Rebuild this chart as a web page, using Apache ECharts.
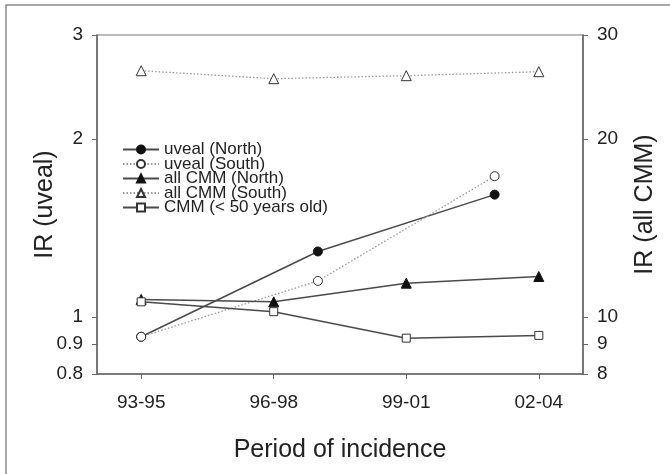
<!DOCTYPE html>
<html>
<head>
<meta charset="utf-8">
<script src="https://cdn.jsdelivr.net/npm/echarts@6/dist/echarts.min.js"></script>
<style>
  html, body { margin: 0; padding: 0; background: #fff; }
  #chart { width: 670px; height: 474px; }
</style>
</head>
<body>
<div id="chart"></div>
<script>
// Incidence rates by period: uveal melanoma (left axis) and all cutaneous melanoma (right axis)
const periodLabels = ['93-95', '96-98', '99-01', '02-04'];
const periodYears = [1994, 1997, 2000, 2003];
const uvealYears = [1994, 1998, 2002];
const uvealNorth = [0.925, 1.29, 1.61];
const uvealSouth = [0.925, 1.15, 1.73];
const cmmNorth = [10.7, 10.6, 11.4, 11.7];
const cmmSouth = [26.1, 25.3, 25.6, 26.0];
const cmmYoung = [10.6, 10.2, 9.2, 9.3];
const leftTicks = [0.8, 0.9, 1, 2, 3];
const rightTicks = [8, 9, 10, 20, 30];

const FONT = 'Arial, "Liberation Sans", sans-serif';
const INK = '#222';
const SOLID = '#4a4a4a';
const DOTTED = '#9a9a9a';

function pairs(xs, ys) { return xs.map((x, i) => [x, ys[i]]); }

const chart = echarts.init(document.getElementById('chart'), null, { renderer: 'canvas' });

function yAxisDef(min, max, ticks, pos, name) {
  return {
    type: 'log', logBase: 10, min: min, max: max, position: pos,
    name: name, nameLocation: 'middle', nameRotate: 90, nameMoveOverlap: false,
    nameGap: pos === 'left' ? 39 : 50,
    nameTextStyle: { fontFamily: FONT, fontSize: 25, color: INK },
    axisLine: { show: true, lineStyle: { color: '#666', width: 1.5 } },
    axisTick: { show: true, inside: false, length: 5, customValues: ticks, lineStyle: { color: '#666', width: 1 } },
    axisLabel: { customValues: ticks, margin: 14, fontFamily: FONT, fontSize: 19, color: INK,
      formatter: v => String(+v.toPrecision(3)) },
    splitLine: { show: false }, minorTick: { show: false }
  };
}

chart.setOption({
  animation: false,
  backgroundColor: '#fff',
  textStyle: { fontFamily: FONT },
  graphic: [{
    type: 'rect', silent: true, z: -10,
    shape: { x: 6, y: 5, width: 720, height: 520 },
    style: { fill: 'none', stroke: '#8a8a8a', lineWidth: 1.5 }
  }],
  grid: { left: 97, right: 87, top: 35, bottom: 100, show: true, borderColor: '#777', borderWidth: 1.2 },
  legend: {
    orient: 'vertical', left: 122, top: 141, padding: 0,
    itemWidth: 36, itemHeight: 10, itemGap: -2.5,
    textStyle: { fontFamily: FONT, fontSize: 17, color: INK },
    data: ['uveal (North)', 'uveal (South)', 'all CMM (North)', 'all CMM (South)', 'CMM (< 50 years old)']
  },
  xAxis: {
    type: 'value', min: 1993, max: 2004,
    name: 'Period of incidence', nameLocation: 'middle', nameGap: 64, nameMoveOverlap: false,
    nameTextStyle: { fontFamily: FONT, fontSize: 25, color: INK },
    axisLine: { show: true, onZero: false, lineStyle: { color: '#666', width: 1.5 } },
    axisTick: { show: true, length: 5, customValues: periodYears, lineStyle: { color: '#666', width: 1 } },
    axisLabel: { customValues: periodYears, margin: 19, fontFamily: FONT, fontSize: 19, color: INK,
      formatter: v => periodLabels[periodYears.indexOf(Math.round(v))] || '' },
    splitLine: { show: false }
  },
  yAxis: [
    yAxisDef(0.8, 3, leftTicks, 'left', 'IR (uveal)'),
    yAxisDef(8, 30, rightTicks, 'right', 'IR (all CMM)')
  ],
  series: [
    {
      name: 'uveal (North)', type: 'line', yAxisIndex: 0, data: pairs(uvealYears, uvealNorth),
      symbol: 'circle', symbolSize: 9,
      lineStyle: { color: SOLID, width: 1.5, type: 'solid' },
      itemStyle: { color: '#111', borderColor: '#111', borderWidth: 1 }
    },
    {
      name: 'uveal (South)', type: 'line', yAxisIndex: 0, data: pairs(uvealYears, uvealSouth),
      symbol: 'circle', symbolSize: 9,
      lineStyle: { color: DOTTED, width: 1.3, type: [1.5, 2] },
      itemStyle: { color: '#fff', borderColor: '#333', borderWidth: 1 }
    },
    {
      name: 'all CMM (North)', type: 'line', yAxisIndex: 1, data: pairs(periodYears, cmmNorth),
      symbol: 'triangle', symbolSize: 10,
      lineStyle: { color: SOLID, width: 1.5, type: 'solid' },
      itemStyle: { color: '#111', borderColor: '#111', borderWidth: 1 }
    },
    {
      name: 'all CMM (South)', type: 'line', yAxisIndex: 1, data: pairs(periodYears, cmmSouth),
      symbol: 'triangle', symbolSize: 10,
      lineStyle: { color: DOTTED, width: 1.3, type: [1.5, 2] },
      itemStyle: { color: '#fff', borderColor: '#333', borderWidth: 1 }
    },
    {
      name: 'CMM (< 50 years old)', type: 'line', yAxisIndex: 1, data: pairs(periodYears, cmmYoung),
      symbol: 'rect', symbolSize: 8,
      lineStyle: { color: SOLID, width: 1.5, type: 'solid' },
      itemStyle: { color: '#fff', borderColor: '#333', borderWidth: 1 }
    }
  ]
});
</script>
</body>
</html>
